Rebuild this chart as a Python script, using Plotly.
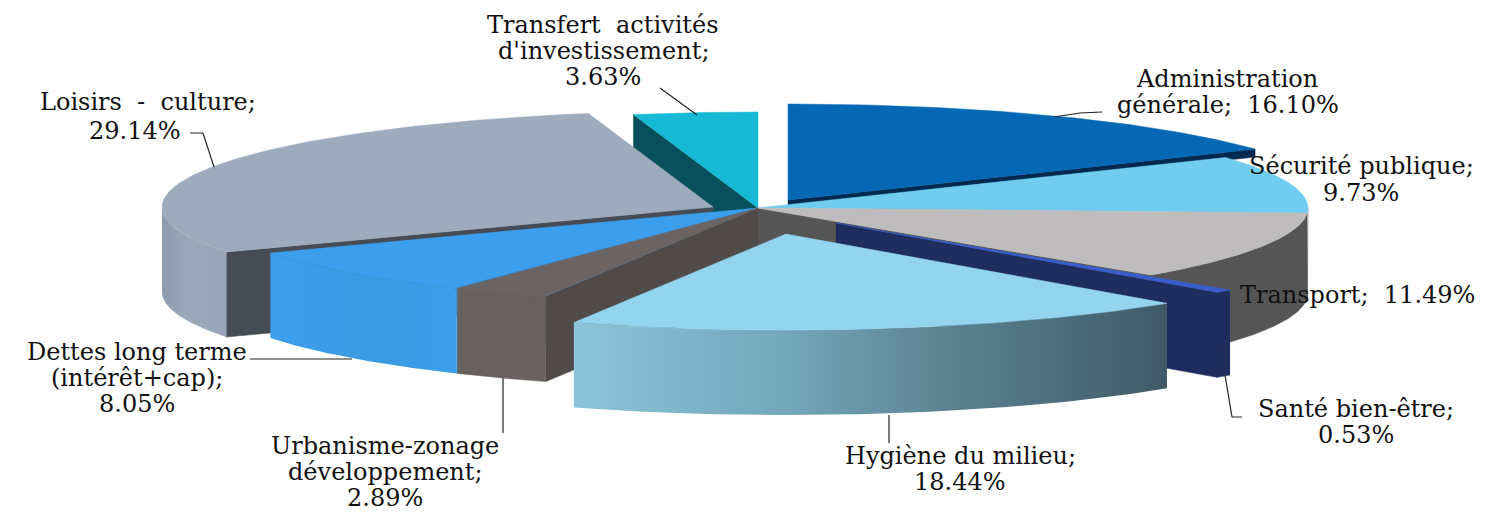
import numpy as np
import plotly.graph_objects as go

categories = ["Administration générale", "Sécurité publique", "Transport", "Santé bien-être",
              "Hygiène du milieu", "Urbanisme-zonage développement",
              "Dettes long terme (intérêt+cap)", "Loisirs - culture",
              "Transfert activités d'investissement"]
values = [16.10, 9.73, 11.49, 0.53, 18.44, 2.89, 8.05, 29.14, 3.63]

# label lines per category, each with its own centre
label_lines = [
    [("Administration", 1227, 79), ("générale;  16.10%", 1228, 105)],
    [("Sécurité publique;", 1361, 166), ("9.73%", 1361, 193)],
    [("Transport;  11.49%", 1357, 295)],
    [("Santé bien-être;", 1356, 409), ("0.53%", 1356, 435)],
    [("Hygiène du milieu;", 960, 456), ("18.44%", 960, 482)],
    [("Urbanisme-zonage", 385, 446), ("développement;", 385, 472), ("2.89%", 385, 498)],
    [("Dettes long terme", 137, 352), ("(intérêt+cap);", 137, 378), ("8.05%", 137, 404)],
    [("Loisirs  -  culture;", 148, 102), ("29.14%", 135, 131)],
    [("Transfert  activités", 603, 25), ("d'investissement;", 603, 51), ("3.63%", 603, 77)],
]

# pie geometry in page pixels
RX, RY, DEPTH = 551, 96, 85
APEX = [(788, 200), (757, 208), (757, 208), (836, 223), (786, 234),
        (758, 208), (757, 208), (713, 207), (758, 208)]
TOP = ["#0468b5", "#70cdf0", "#bfbcbd", "#3a5fcd", "#93d4ee", "#6b6462", "#3c9fed", "#9dabbd", "#17bad6"]
SIDE = ["#0468b5", "#555555", "#555555", "#1f2d5e", None, "#68615f", None, None, "#17bad6"]
SIDE_GRAD = {
    4: [[0, "#8ac5db"], [0.35, "#74a8bb"], [0.65, "#5a808f"], [1, "#3f5a66"]],
    6: [[0, "#3c9fee"], [0.6, "#3a9ae0"], [1, "#3c9fec"]],
    7: [[0, "#8f9cae"], [0.4, "#9ba8ba"], [1, "#98a5b7"]],
}
START_WALL = ["", "", "", "", "", "#504b49", "#3c9fed", "#464c55", "#07505c"]
END_WALL = ["#022a50", "", "#555555", "#1f2d5e", "", "", "", "", ""]
WALL_DEPTH = {0: 8}
ORDER = [0, 8, 1, 2, 3, 7, 6, 5, 4]

edges = np.cumsum([0] + values) * 3.6


def rim(i, a):
    t = np.radians(a)
    return APEX[i][0] + RX * np.sin(t), APEX[i][1] - RY * np.cos(t)


def add_poly(fig, xs, ys, color=None, grad=None, name=""):
    kw = dict(x=list(xs), y=list(ys), mode="lines", fill="toself", name=name,
              hoverinfo="skip", showlegend=False)
    if grad is not None:
        kw["fillgradient"] = dict(type="horizontal", colorscale=grad)
        kw["line"] = dict(width=0)
    else:
        kw["fillcolor"] = color
        kw["line"] = dict(width=0.5, color=color)
    fig.add_trace(go.Scatter(**kw))


def wall(fig, i, a, color, name):
    x, y = rim(i, a)
    ax, ay = APEX[i]
    d = WALL_DEPTH.get(i, DEPTH)
    add_poly(fig, [ax, x, x, ax, ax], [ay, y, y + d, ay + d, ay], color, name=name)


fig = go.Figure()
for i in ORDER:
    a0, a1 = edges[i], edges[i + 1]
    name = categories[i]
    if START_WALL[i]:
        wall(fig, i, a0, START_WALL[i], name)
    if END_WALL[i]:
        wall(fig, i, a1, END_WALL[i], name)
    lo, hi = max(a0, 90), min(a1, 270)
    if hi > lo:
        ang = np.linspace(lo, hi, 80)
        rx, ry = rim(i, ang)
        add_poly(fig, np.r_[rx, rx[::-1]], np.r_[ry, ry[::-1] + DEPTH],
                 SIDE[i], SIDE_GRAD.get(i), name)
    ang = np.linspace(a0, a1, 120)
    tx, ty = rim(i, ang)
    add_poly(fig, np.r_[APEX[i][0], tx, APEX[i][0]], np.r_[APEX[i][1], ty, APEX[i][1]], TOP[i], name=name)

# leader lines
leaders = [
    ([660, 697], [88, 115]),
    ([190, 203, 214], [133, 133, 167]),
    ([1054, 1080, 1102], [117, 113, 112]),
    ([1225, 1232, 1242], [375, 417, 417]),
    ([889, 889], [415, 443]),
    ([503, 503], [378, 433]),
    ([250, 352], [359, 359]),
]
for lx, ly in leaders:
    fig.add_trace(go.Scatter(x=lx, y=ly, mode="lines", line=dict(color="#222222", width=1.2),
                             hoverinfo="skip", showlegend=False))

for lines in label_lines:
    for text, cx, cy in lines:
        fig.add_annotation(x=cx, y=cy, text=text, showarrow=False, xanchor="center", yanchor="middle",
                           font=dict(family="DejaVu Serif", size=24, color="#111111"))

fig.update_xaxes(visible=False, range=[0, 1491], fixedrange=True)
fig.update_yaxes(visible=False, range=[512, 0], fixedrange=True)
fig.update_layout(width=1491, height=512, margin=dict(l=0, r=0, t=0, b=0),
                  paper_bgcolor="white", plot_bgcolor="white", showlegend=False)
fig.write_html("out.html", config={"displayModeBar": False},
               post_script="document.body.style.margin='0';document.body.style.overflow='hidden';")
